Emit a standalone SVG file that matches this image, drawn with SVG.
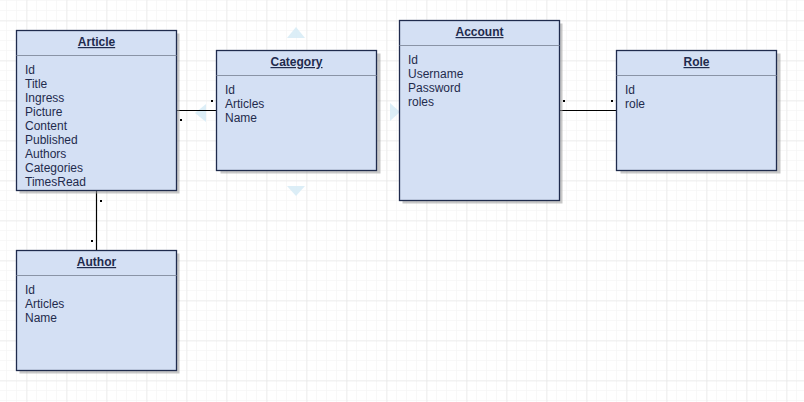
<svg xmlns="http://www.w3.org/2000/svg" width="804" height="402" viewBox="0 0 804 402">
<style>
.box{fill:#d4e0f4;stroke:#1f2b4d;stroke-width:1.3}
.shadow{fill:#9a9a9a;opacity:0.55}
.sep{stroke:#8a94a6;stroke-width:1}
.title{font-family:"Liberation Sans",Arial,sans-serif;font-size:12px;font-weight:bold;fill:#1f2b4d;text-anchor:middle;text-decoration:underline}
.attr{font-family:"Liberation Sans",Arial,sans-serif;font-size:12px;fill:#1f2b4d}
.conn{stroke:#000;stroke-width:1.2;fill:none}
.dot{fill:#000}
.hint{fill:#d6ebf6;opacity:0.85}
</style>
<defs>
<pattern id="minor" x="6" y="0" width="10" height="10" patternUnits="userSpaceOnUse">
<path d="M0 0V10M0 0H10" stroke="#f2f2f2" stroke-width="1" fill="none"/>
</pattern>
<pattern id="major" x="26.5" y="20.5" width="40" height="40" patternUnits="userSpaceOnUse">
<path d="M0 0V40M0 0H40" stroke="#e2e2e2" stroke-width="1" fill="none"/>
</pattern>
</defs>
<rect width="804" height="402" fill="#ffffff"/>
<rect width="804" height="402" fill="url(#minor)"/>
<rect width="804" height="402" fill="url(#major)"/>

<g id="hints">
<polygon class="hint" points="296,27 305,38 287,38"/>
<polygon class="hint" points="287,186 305,186 296,196"/>
<polygon class="hint" points="195,113 206,104 206,122"/>
<polygon class="hint" points="400,112 390,103 390,121"/>
</g>

<g id="connectors">
<line class="conn" x1="177" y1="110.5" x2="217" y2="110.5"/>
<rect class="dot" x="211" y="100" width="2" height="2"/>
<rect class="dot" x="180" y="119" width="2" height="2"/>
<line class="conn" x1="559" y1="110.5" x2="617" y2="110.5"/>
<rect class="dot" x="563" y="100" width="2" height="2"/>
<rect class="dot" x="611" y="100" width="2" height="2"/>
<line class="conn" x1="96.5" y1="190" x2="96.5" y2="250"/>
<rect class="dot" x="100" y="200" width="2" height="2"/>
<rect class="dot" x="91" y="240" width="2" height="2"/>
</g>

<g id="article">
<rect class="shadow" x="19.5" y="33.5" width="160" height="160"/>
<rect class="box" x="16.5" y="30.5" width="160" height="160"/>
<line class="sep" x1="16.5" y1="55.5" x2="176.5" y2="55.5"/>
<text class="title" x="96.5" y="46">Article</text>
<text class="attr" x="25" y="74">Id</text>
<text class="attr" x="25" y="88">Title</text>
<text class="attr" x="25" y="102">Ingress</text>
<text class="attr" x="25" y="116">Picture</text>
<text class="attr" x="25" y="130">Content</text>
<text class="attr" x="25" y="144">Published</text>
<text class="attr" x="25" y="158">Authors</text>
<text class="attr" x="25" y="172">Categories</text>
<text class="attr" x="25" y="186">TimesRead</text>
</g>

<g id="category">
<rect class="shadow" x="220.5" y="53.5" width="160" height="120"/>
<rect class="box" x="216.5" y="50.5" width="160" height="120"/>
<line class="sep" x1="216.5" y1="75.5" x2="376.5" y2="75.5"/>
<text class="title" x="296.5" y="66">Category</text>
<text class="attr" x="225" y="94">Id</text>
<text class="attr" x="225" y="108">Articles</text>
<text class="attr" x="225" y="122">Name</text>
</g>

<g id="account">
<rect class="shadow" x="402.5" y="23.5" width="160" height="180"/>
<rect class="box" x="399.5" y="20.5" width="160" height="180"/>
<line class="sep" x1="399.5" y1="45.5" x2="559.5" y2="45.5"/>
<text class="title" x="479.5" y="36">Account</text>
<text class="attr" x="408" y="64">Id</text>
<text class="attr" x="408" y="78">Username</text>
<text class="attr" x="408" y="92">Password</text>
<text class="attr" x="408" y="106">roles</text>
</g>

<g id="role">
<rect class="shadow" x="620.5" y="53.5" width="160" height="120"/>
<rect class="box" x="616.5" y="50.5" width="160" height="120"/>
<line class="sep" x1="616.5" y1="75.5" x2="776.5" y2="75.5"/>
<text class="title" x="696.5" y="66">Role</text>
<text class="attr" x="625" y="94">Id</text>
<text class="attr" x="625" y="108">role</text>
</g>

<g id="author">
<rect class="shadow" x="19.5" y="253.5" width="160" height="120"/>
<rect class="box" x="16.5" y="250.5" width="160" height="120"/>
<line class="sep" x1="16.5" y1="275.5" x2="176.5" y2="275.5"/>
<text class="title" x="96.5" y="266">Author</text>
<text class="attr" x="25" y="294">Id</text>
<text class="attr" x="25" y="308">Articles</text>
<text class="attr" x="25" y="322">Name</text>
</g>
</svg>
